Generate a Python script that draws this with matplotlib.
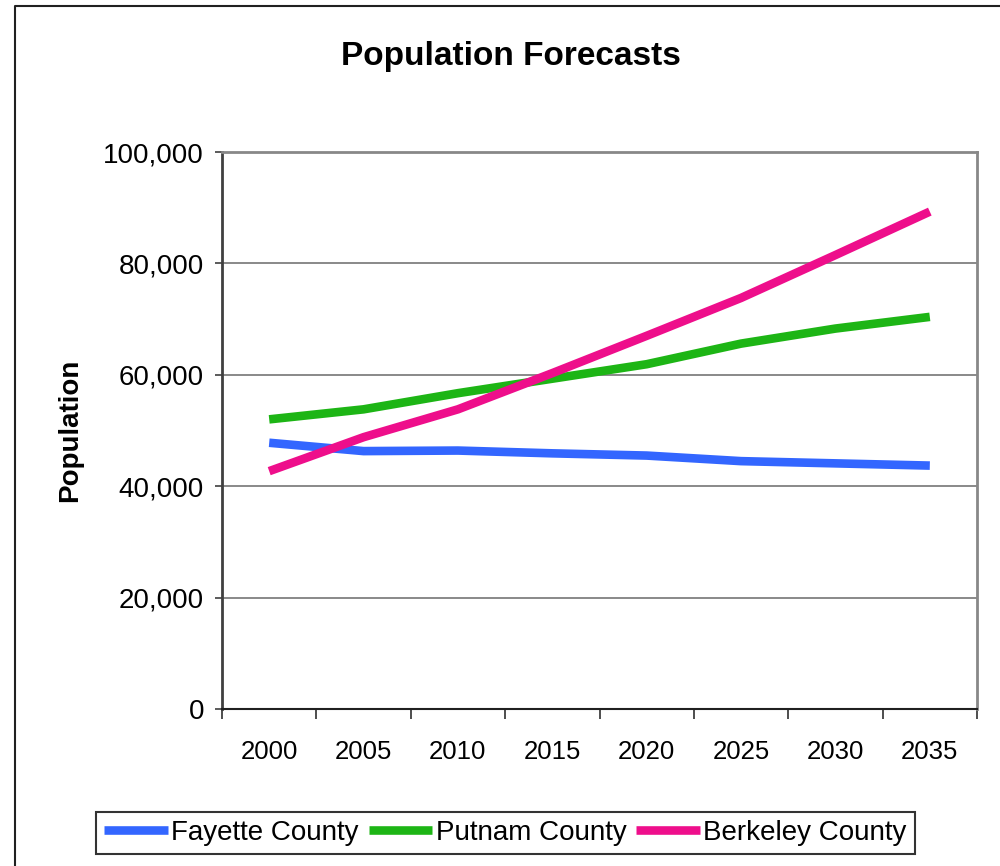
import numpy as np
import matplotlib
matplotlib.use("Agg")
import matplotlib.pyplot as plt
from matplotlib.lines import Line2D

plt.rcParams['font.family'] = ['Liberation Sans', 'DejaVu Sans']

years    = ["2000", "2005", "2010", "2015", "2020", "2025", "2030", "2035"]
fayette  = [47800, 46300, 46400, 45900, 45500, 44500, 44100, 43700]
putnam   = [52000, 53800, 56700, 59300, 61900, 65600, 68300, 70400]
berkeley = [42700, 48800, 53800, 60300, 67000, 73800, 81500, 89300]

series = [
    ("Fayette County", fayette, "#3366ff"),
    ("Putnam County", putnam, "#1db515"),
    ("Berkeley County", berkeley, "#ee0e8b"),
]

W, H = 1000, 866
fig = plt.figure(figsize=(W / 100, H / 100), dpi=100)
ax = fig.add_axes([222 / W, 1 - 709 / H, (977 - 222) / W, (709 - 152) / H])

x = np.arange(len(years))
for name, vals, color in series:
    ax.plot(x, vals, color=color, lw=6.2, label=name, solid_capstyle="butt", solid_joinstyle="miter")

ax.set_xlim(-0.5, len(years) - 0.5)
ax.set_ylim(0, 100000)

# - y axis
ax.set_yticks(np.arange(0, 100001, 20000))
ax.set_yticklabels([f"{v:,}" for v in range(0, 100001, 20000)], fontsize=20)
ax.tick_params(axis="y", direction="out", length=5, width=1.2, color="#404040", pad=8)
ax.yaxis.grid(True, color="#808080", lw=1.3)
ax.set_axisbelow(True)

# - x axis: ticks on category boundaries, labels at centers
ax.set_xticks(np.arange(-0.5, len(years), 1.0))
ax.set_xticklabels([])
ax.tick_params(axis="x", which="major", direction="out", length=7, width=1.2, color="#303030")
ax.set_xticks(x, minor=True)
ax.set_xticklabels(years, minor=True, fontsize=18.5)
ax.tick_params(axis="x", which="minor", length=0, pad=22)

for side in ["top", "right"]:
    ax.spines[side].set_color("#888888")
    ax.spines[side].set_linewidth(2)
ax.spines["left"].set_color("#404040")
ax.spines["left"].set_linewidth(2)
ax.spines["bottom"].set_color("#202020")
ax.spines["bottom"].set_linewidth(1.5)

fig.text(70 / W, 1 - 430 / H, "Population", rotation=90, fontsize=20, fontweight="bold",
         ha="center", va="center")
fig.text(511 / W, 1 - 56 / H, "Population Forecasts", fontsize=24, fontweight="bold",
         ha="center", va="center")

leg = fig.legend(loc="center", bbox_to_anchor=(505.5 / W, 1 - 833 / H), ncol=3, fontsize=20,
                 frameon=True, fancybox=False, edgecolor="black", handlelength=2.3,
                 handletextpad=0.12, columnspacing=0.35, borderpad=0.3, borderaxespad=0)
leg.get_frame().set_linewidth(1.5)

# - outer chart border (left and top)
fig.add_artist(Line2D([14.5 / W, 14.5 / W, 1.0], [0.0, 1 - 5.5 / H, 1 - 5.5 / H],
                      transform=fig.transFigure, color="#202020", lw=1.5))

fig.savefig("out.png", dpi=100)
